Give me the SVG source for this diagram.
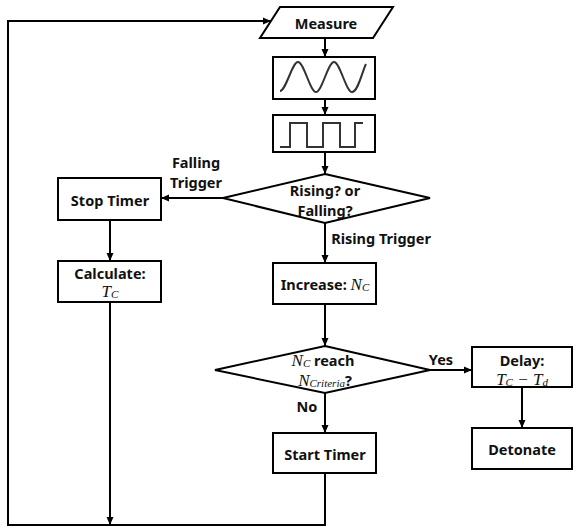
<svg xmlns="http://www.w3.org/2000/svg" width="573" height="527" viewBox="0 0 573 527">
<style>
.sh{fill:#fff;stroke:#000;stroke-width:2}
.wv{fill:none;stroke:#333;stroke-width:2}
.t{font-family:"Noto Sans","Open Sans",sans-serif;font-weight:bold;font-size:14.5px;fill:#111;text-anchor:middle;dominant-baseline:central}
.m{font-family:"Liberation Serif","DejaVu Serif",serif;font-style:italic;font-weight:normal;font-size:17px}
.s{font-family:"Liberation Serif","DejaVu Serif",serif;font-style:italic;font-weight:normal;font-size:11px}
.c{fill:none;stroke:#000;stroke-width:2}
</style>
<defs>
<marker id="a" markerUnits="userSpaceOnUse" markerWidth="8" markerHeight="8" viewBox="0 0 8 8" refX="8" refY="4" orient="auto">
<path d="M0,0.5 L8,4 L0,7.5 Z" fill="#000"/>
</marker>
</defs>
<g id="connectors">
<polyline class="c" points="325,473 325,525 8,525 8,21 271,21" marker-end="url(#a)"/>
<line class="c" x1="110" y1="302" x2="110" y2="525" marker-end="url(#a)"/>
<line class="c" x1="325" y1="38" x2="325" y2="57" marker-end="url(#a)"/>
<line class="c" x1="325" y1="99" x2="325" y2="115" marker-end="url(#a)"/>
<line class="c" x1="325" y1="152" x2="325" y2="174" marker-end="url(#a)"/>
<line class="c" x1="223" y1="198" x2="161" y2="198" marker-end="url(#a)"/>
<line class="c" x1="110" y1="220" x2="110" y2="261" marker-end="url(#a)"/>
<line class="c" x1="325" y1="223" x2="325" y2="263" marker-end="url(#a)"/>
<line class="c" x1="325" y1="304" x2="325" y2="346" marker-end="url(#a)"/>
<line class="c" x1="325" y1="393" x2="325" y2="433" marker-end="url(#a)"/>
<line class="c" x1="430" y1="370" x2="472" y2="370" marker-end="url(#a)"/>
<line class="c" x1="522" y1="387" x2="522" y2="428" marker-end="url(#a)"/>
<text class="t" x="196" y="162">Falling</text>
<text class="t" x="196" y="182">Trigger</text>
<text class="t" x="381" y="238">Rising Trigger</text>
<text class="t" x="441" y="359">Yes</text>
<text class="t" x="307" y="406">No</text>
</g>
<g id="measure">
<polygon class="sh" points="280,7 393,7 373,38 260,38"/>
<text class="t" x="326" y="23">Measure</text>
</g>
<g id="sine">
<rect class="sh" x="273" y="57" width="102" height="42"/>
<path class="wv" d="M280,91 C286,91 292,62 298,62 C304,62 310,92 316,92 C322,92 328,62 334,62 C340,62 346,92 352,92 C358,92 362,72 366,64"/>
</g>
<g id="square">
<rect class="sh" x="273" y="115" width="102" height="37"/>
<polyline class="wv" points="280,147 290,147 290,123 307,123 307,147 323,147 323,123 340,123 340,147 355,147 355,123 363,123"/>
</g>
<g id="decision1">
<polygon class="sh" points="325,174 430,198 325,223 223,198"/>
<text class="t" x="325" y="190">Rising? or</text>
<text class="t" x="325" y="210">Falling?</text>
</g>
<g id="stoptimer">
<rect class="sh" x="58" y="178" width="103" height="42"/>
<text class="t" x="110" y="200">Stop Timer</text>
</g>
<g id="calculate">
<rect class="sh" x="58" y="261" width="103" height="41"/>
<text class="t" x="110" y="273">Calculate:</text>
<text class="t" x="110" y="291"><tspan class="m">T</tspan><tspan class="s" dy="3">C</tspan></text>
</g>
<g id="increase">
<rect class="sh" x="273" y="263" width="103" height="41"/>
<text class="t" x="325" y="284">Increase: <tspan class="m">N</tspan><tspan class="s" dy="3">C</tspan></text>
</g>
<g id="decision2">
<polygon class="sh" points="325,346 430,370 325,393 215,370"/>
<text class="t" x="323" y="360"><tspan class="m">N</tspan><tspan class="s" dy="3">C</tspan><tspan dy="-3"> reach</tspan></text>
<text class="t" x="325" y="380"><tspan class="m">N</tspan><tspan class="s" dy="3">Criteria</tspan><tspan dy="-3">?</tspan></text>
</g>
<g id="starttimer">
<rect class="sh" x="273" y="433" width="103" height="40"/>
<text class="t" x="325" y="454">Start Timer</text>
</g>
<g id="delay">
<rect class="sh" x="472" y="347" width="100" height="40"/>
<text class="t" x="522" y="360">Delay:</text>
<text class="t" x="522" y="379"><tspan class="m">T</tspan><tspan class="s" dy="3">C</tspan><tspan class="m" dy="-3"> − T</tspan><tspan class="s" dy="3">d</tspan></text>
</g>
<g id="detonate">
<rect class="sh" x="472" y="428" width="100" height="41"/>
<text class="t" x="522" y="449">Detonate</text>
</g>
</svg>
